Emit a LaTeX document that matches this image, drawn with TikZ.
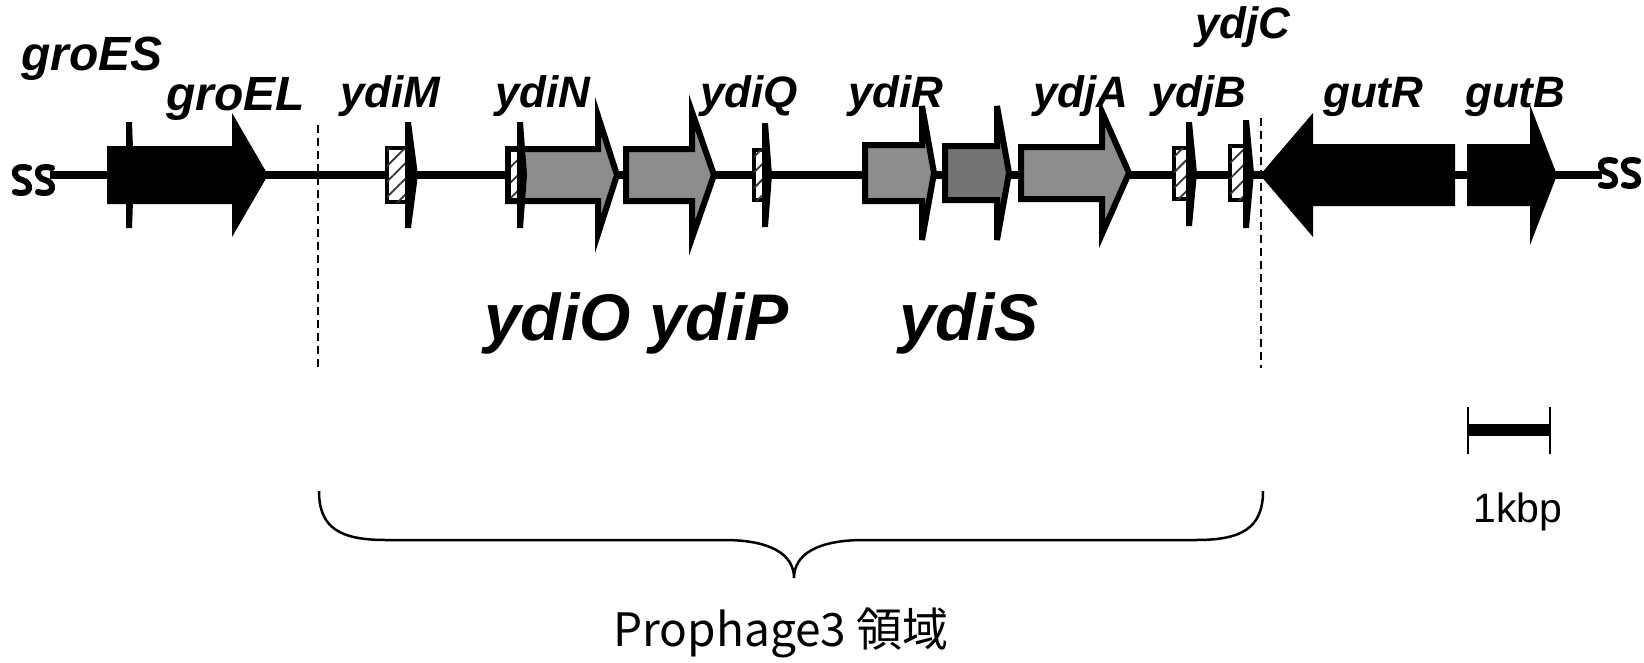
\documentclass[tikz,border=0pt]{standalone}
\usepackage{fontspec}
\setmainfont{Liberation Sans}
\newfontfamily\jpfont{Noto Sans CJK JP}
\usetikzlibrary{patterns.meta}
\begin{document}
\begin{tikzpicture}[x=1pt,y=-1pt,
  blackgene/.style={fill=black},
  graygene/.style={draw=black, line width=6pt, fill=black!45, line join=miter},
  hatchbox/.style={draw=black, line width=4pt, fill=white,
     postaction={pattern={Lines[angle=45,distance=11pt,line width=1.8pt]}, pattern color=black!80}},
  genetick/.style={fill=black},
  genelabel/.style={font=\fontsize{44}{50}\selectfont\bfseries\itshape, inner sep=0pt, anchor=base west},
  grolabel/.style={font=\fontsize{48}{54}\selectfont\bfseries\itshape, inner sep=0pt, anchor=base west},
  biglabel/.style={font=\fontsize{66}{72}\selectfont\bfseries\itshape, inner sep=0pt, anchor=base west},
  breakmark/.style={line width=6pt, line cap=round},
  regionline/.style={dash pattern=on 8pt off 5pt, line width=1.5pt},
]
\useasboundingbox (0,0) rectangle (1644,662);

% backbone
\coordinate (bbL) at (50,175);
\coordinate (bbR) at (1602,175);
\draw[line width=8pt] (bbL) -- (bbR);

% break marks
\foreach \cx/\cy in {22/180, 45/180, 1608/173, 1631/173}{
  \draw[breakmark] (\cx+7,\cy-12) .. controls (\cx-11,\cy-17) and (\cx-10,\cy-2) .. (\cx,\cy)
     .. controls (\cx+10,\cy+2) and (\cx+11,\cy+17) .. (\cx-7,\cy+12);
}

% groES / groEL
\fill[blackgene] (107,146) -- (232,146) -- (232,113) -- (268,175) -- (232,237) -- (232,204) -- (107,204) -- cycle;
\fill[genetick] (126,122) -- (132,122) -- (134,175) -- (132,228) -- (126,228) -- cycle;

% gray arrows
\draw[graygene] (508,149) -- (598,149) -- (598,116) -- (617,175) -- (598,234) -- (598,201) -- (508,201) -- cycle;
\draw[graygene] (626,149) -- (692,149) -- (692,112) -- (714,175) -- (692,238) -- (692,201) -- (626,201) -- cycle;
\draw[graygene] (865,145) -- (922,145) -- (922,106) -- (934,173) -- (922,240) -- (922,201) -- (865,201) -- cycle;
\draw[graygene, fill=black!55] (945,146) -- (997,146) -- (997,106) -- (1009,173) -- (997,240) -- (997,200) -- (945,200) -- cycle;
\draw[graygene] (1021,147) -- (1102,147) -- (1102,112) -- (1129,173) -- (1102,234) -- (1102,199) -- (1021,199) -- cycle;

% small hatched genes
\draw[hatchbox] (387,148) rectangle (409,202);
\fill[genetick] (405,122) -- (411,122) -- (418,175) -- (411,228) -- (405,228) -- cycle;
\draw[hatchbox, draw=none] (511,152) rectangle (519,198);
\fill[genetick] (517,122) -- (523,122) -- (527,175) -- (523,228) -- (517,228) -- cycle;
\draw[hatchbox] (754,150) rectangle (766,200);
\fill[genetick] (762,123) -- (768,123) -- (772,175) -- (768,227) -- (762,227) -- cycle;
\draw[hatchbox] (1174,148) rectangle (1190,199);
\fill[genetick] (1186,122) -- (1192,122) -- (1197,173) -- (1192,226) -- (1186,226) -- cycle;
\draw[hatchbox] (1230,146) rectangle (1246,200);
\fill[genetick] (1243,120) -- (1249,120) -- (1254,173) -- (1249,228) -- (1243,228) -- cycle;

% gutR / gutB
\fill[blackgene] (1260,175) -- (1313,113) -- (1313,144) -- (1455,144) -- (1455,206) -- (1313,206) -- (1313,237) -- cycle;
\fill[blackgene] (1467,144) -- (1530,144) -- (1530,105) -- (1557,175) -- (1530,245) -- (1530,206) -- (1467,206) -- cycle;

% region borders
\draw[regionline] (318,125) -- (318,368);
\draw[regionline] (1261,118) -- (1261,368);

% labels
\node[grolabel] (lgroES) at (21,70) {groES};
\node[grolabel] (lgroEL) at (166,110) {groEL};
\node[genelabel] (lydiM) at (340,107) {ydiM};
\node[genelabel] (lydiN) at (495,107) {ydiN};
\node[genelabel] (lydiQ) at (700,107) {ydiQ};
\node[genelabel] (lydiR) at (848,107) {ydiR};
\node[genelabel] (lydjA) at (1033,107) {ydjA};
\node[genelabel] (lydjB) at (1151,107) {ydjB};
\node[genelabel] (lydjC) at (1195,38) {ydjC};
\node[genelabel] (lgutR) at (1323,107) {gutR};
\node[genelabel] (lgutB) at (1465,107) {gutB};
\node[biglabel] (lydiOP) at (484,340) {ydiO ydiP};
\node[biglabel] (lydiS) at (899,340) {ydiS};

% scale bar
\coordinate (sbL) at (1468,430);
\coordinate (sbR) at (1550,430);
\draw[line width=2.5pt] ([yshift=-24pt]sbL) -- ([yshift=23pt]sbL);
\draw[line width=2.5pt] ([yshift=-24pt]sbR) -- ([yshift=23pt]sbR);
\draw[line width=12pt] (sbL) -- (sbR);
\node[font=\fontsize{41}{46}\selectfont, inner sep=0pt, anchor=base west] (lkbp) at (1473,522) {1kbp};

% brace
\draw[line width=2.5pt] (319,491) .. controls (319,528) and (340,540) .. (386,540)
  -- (724,540) .. controls (770,540) and (794,554) .. (794,578)
  .. controls (794,554) and (818,540) .. (864,540)
  -- (1196,540) .. controls (1242,540) and (1263,528) .. (1263,491);

\node[font=\jpfont\fontsize{46}{50}\selectfont, inner sep=0pt] (lregion) at (781,633) {Prophage3 領域};
\end{tikzpicture}
\end{document}
